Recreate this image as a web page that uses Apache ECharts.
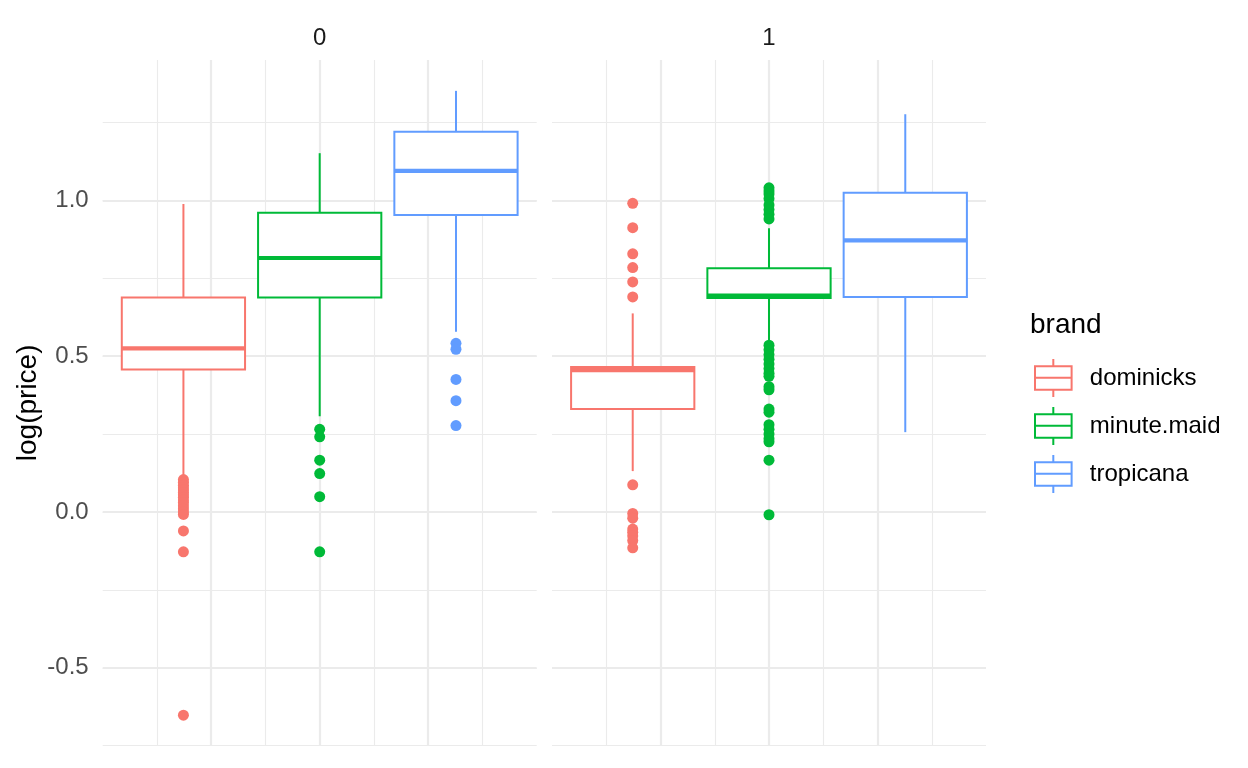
<!DOCTYPE html>
<html><head><meta charset="utf-8">
<script src="https://cdn.jsdelivr.net/npm/echarts@6/dist/echarts.min.js"></script>
<style>html,body{margin:0;background:#fff}#c{width:1248px;height:768px}</style>
</head><body><div id="c"></div>
<script>
// ---- data ----
const facets = ['0', '1'];
const brands = ['dominicks', 'minute.maid', 'tropicana'];
const yLabelValues = [-0.5, 0.0, 0.5, 1.0];
// box stats per brand: [lower whisker, Q1, median, Q3, upper whisker]
const box0 = [
  [0.112, 0.457, 0.5245, 0.688, 0.988],
  [0.307, 0.688, 0.8147, 0.960, 1.151],
  [0.578, 0.953, 1.094, 1.220, 1.351]
];
const box1 = [
  [0.131, 0.330, 0.455, 0.465, 0.637],
  [0.551, 0.686, 0.694, 0.782, 0.910],
  [0.256, 0.690, 0.871, 1.024, 1.276]
];
const out0 = [
  [0.104, 0.095, 0.086, 0.078, 0.070, 0.062, 0.055, 0.047, 0.038, 0.030, 0.020, 0.010, 0.000, -0.008, -0.061, -0.128, -0.652],
  [0.265, 0.241, 0.166, 0.123, 0.049, -0.128],
  [0.541, 0.522, 0.425, 0.357, 0.277]
];
const out1 = [
  [0.990, 0.912, 0.828, 0.784, 0.738, 0.690, 0.087, -0.005, -0.020, -0.055, -0.065, -0.077, -0.092, -0.115],
  [1.040, 1.030, 1.020, 1.005, 0.985, 0.970, 0.955, 0.940, 0.535, 0.520, 0.505, 0.490, 0.475, 0.460, 0.445, 0.435, 0.402, 0.392, 0.330, 0.320, 0.280, 0.265, 0.250, 0.235, 0.225, 0.166, -0.009],
  []
];
const boxes = [box0, box1];
const outliers = [out0, out1];

// ---- style / layout ----
const colors = ['#F8766D', '#00BA38', '#619CFF'];
const FONT = 'Liberation Sans, Arial, Helvetica, sans-serif';
const DODGE = 0.314;   // dodge offset of each brand within a facet
const BOX_W = 0.284;   // box width in x units
const GRID = '#ebebeb';
const SMALL = 24, BIG = 28;

function xPos(b) { return (b - 1) * DODGE; }

function renderBox(params, api) {
  const x = api.value(0);
  const lo = api.coord([x, api.value(1)]);
  const q1 = api.coord([x, api.value(2)]);
  const md = api.coord([x, api.value(3)]);
  const q3 = api.coord([x, api.value(4)]);
  const hi = api.coord([x, api.value(5)]);
  const w = api.size([BOX_W, 0])[0];
  const cx = q1[0];
  const color = api.visual('color');
  const ls = { stroke: color, lineWidth: 2, fill: null };
  return {
    type: 'group',
    children: [
      { type: 'line', shape: { x1: cx, y1: hi[1], x2: cx, y2: q3[1] }, style: ls },
      { type: 'line', shape: { x1: cx, y1: q1[1], x2: cx, y2: lo[1] }, style: ls },
      { type: 'rect', shape: { x: cx - w / 2, y: q3[1], width: w, height: q1[1] - q3[1] },
        style: { stroke: color, lineWidth: 2, fill: '#fff' } },
      { type: 'line', shape: { x1: cx - w / 2, y1: md[1], x2: cx + w / 2, y2: md[1] },
        style: { stroke: color, lineWidth: 4.2 } }
    ]
  };
}

const grids = [
  { left: 102.7, top: 60, width: 434, height: 685.7 },
  { left: 552, top: 60, width: 434, height: 685.7 }
];

const xAxes = facets.map((f, i) => ({
  type: 'value', gridIndex: i, min: -0.5, max: 0.5, interval: 0.25,
  position: 'top', name: f, nameLocation: 'middle', nameGap: 10,
  nameTextStyle: { fontSize: SMALL, color: '#1a1a1a', fontFamily: FONT },
  axisLine: { show: false }, axisTick: { show: false }, axisLabel: { show: false },
  splitLine: { show: true, showMinLine: false, showMaxLine: false, lineStyle: { color: GRID, width: 2.2 } },
  minorTick: { show: false, splitNumber: 2 },
  minorSplitLine: { show: true, lineStyle: { color: GRID, width: 1.1 } }
}));

const yAxes = [];
facets.forEach((f, i) => {
  yAxes.push({
    type: 'value', gridIndex: i, min: -0.75, max: 1.45, interval: 0.25,
    axisLine: { show: false }, axisTick: { show: false },
    axisLabel: {
      show: i === 0, fontSize: SMALL, color: '#4d4d4d', fontFamily: FONT, margin: 14,
      formatter: v => yLabelValues.some(t => Math.abs(t - v) < 1e-6) ? v.toFixed(1) : ''
    },
    name: i === 0 ? 'log(price)' : '', nameLocation: 'middle', nameRotate: 90, nameGap: 60,
    nameTextStyle: { fontSize: BIG, color: '#000', fontFamily: FONT },
    splitLine: { show: true, showMaxLine: false, lineStyle: { color: GRID, width: 1.1 } }
  });
  yAxes.push({
    type: 'value', gridIndex: i, min: -0.75, max: 1.45, interval: 0.25,
    axisLine: { show: false }, axisTick: { show: false }, axisLabel: { show: false },
    splitLine: { show: true, showMaxLine: false, lineStyle: { color: ['rgba(0,0,0,0)', GRID], width: 2.2 } }
  });
});

const series = [];
facets.forEach((f, fi) => {
  brands.forEach((b, bi) => {
    const x = xPos(bi);
    series.push({
      type: 'custom', name: b, xAxisIndex: fi, yAxisIndex: fi * 2,
      itemStyle: { color: colors[bi] }, renderItem: renderBox,
      encode: { x: 0, y: [1, 2, 3, 4, 5] },
      data: [[x].concat(boxes[fi][bi])], z: 3
    });
    series.push({
      type: 'scatter', name: b, xAxisIndex: fi, yAxisIndex: fi * 2,
      symbolSize: 11, itemStyle: { color: colors[bi], opacity: 1 },
      data: outliers[fi][bi].map(v => [x, v]), z: 4
    });
  });
});

const ICON = 'path://M18.5,0L18.5,7.4M0,7.4L37,7.4L37,31L0,31ZM0,19L37,19M18.5,31L18.5,38.4';

const option = {
  animation: false,
  backgroundColor: '#fff',
  textStyle: { fontFamily: FONT },
  grid: grids,
  xAxis: xAxes,
  yAxis: yAxes,
  title: {
    text: 'brand', left: 1030, top: 311, padding: 0,
    textStyle: { fontSize: BIG, fontWeight: 'normal', color: '#000', fontFamily: FONT }
  },
  legend: {
    orient: 'vertical', left: 1034, top: 358, padding: 0,
    itemWidth: 37, itemHeight: 38, itemGap: 8, icon: ICON, selectedMode: false,
    data: brands.map((b, i) => ({ name: b, itemStyle: { color: '#fff', borderColor: colors[i], borderWidth: 2 } })),
    textStyle: { fontSize: SMALL, color: '#000', fontFamily: FONT, padding: [0, 0, 0, 13] }
  },
  series: series
};

const chart = echarts.init(document.getElementById('c'), null, { renderer: 'canvas' });
chart.setOption(option);
</script>
</body></html>
